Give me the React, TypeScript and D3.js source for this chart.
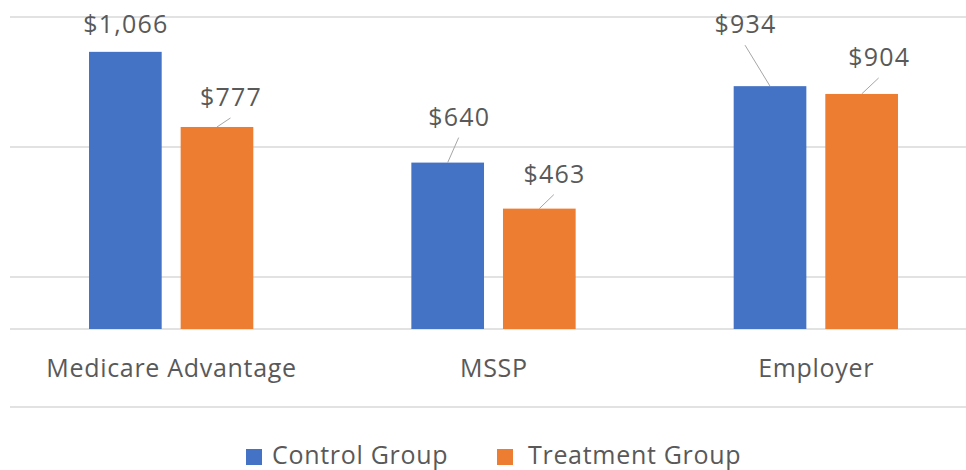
import React, { useEffect, useRef } from 'react';
import * as d3 from 'd3';

const categories = ["Medicare Advantage", "MSSP", "Employer"];
const seriesNames = ["Control Group", "Treatment Group"];
const controlValues = [1066, 640, 934];
const treatmentValues = [777, 463, 904];
const gridTicks = [-300, 200, 700, 1200];

// label placement relative to bar top (Excel-style dragged labels)
const controlLabelOffsets = [[0, -19], [11, -37], [-25, -53]];
const treatmentLabelOffsets = [[13.5, -21], [14.5, -26], [17, -28]];

const colors = ["#4472C4", "#ED7D31"];
const textColor = "#595959";
const font = "'Open Sans', 'Noto Sans', sans-serif";

function App() {
    const svgRef = useRef<SVGSVGElement>(null);

    useEffect(() => {
        if (!svgRef.current) return;
        const svg = d3.select(svgRef.current);
        svg.selectAll("*").remove();

        const width = 966;
        const height = 470;

        const y = d3.scaleLinear().domain([-300, 1200]).range([407, 17]);
        const x0 = d3.scaleBand<string>().domain(categories).range([10, 977]).padding(0);
        const groupWidth = 164.3;
        const x1 = d3.scaleBand<string>().domain(seriesNames).range([0, groupWidth]).paddingInner(0.207);

        // gridlines
        svg.append("g")
            .selectAll("line")
            .data([...gridTicks, 0])
            .join("line")
            .attr("x1", 10)
            .attr("x2", width)
            .attr("y1", d => y(d))
            .attr("y2", d => y(d))
            .attr("stroke", "#D9D9D9")
            .attr("stroke-width", 1.3);

        const series = [
            { name: seriesNames[0], values: controlValues, offsets: controlLabelOffsets, color: colors[0] },
            { name: seriesNames[1], values: treatmentValues, offsets: treatmentLabelOffsets, color: colors[1] },
        ];

        series.forEach(s => {
            const bars = categories.map((c, i) => {
                const bx = (x0(c) as number) + (x0.bandwidth() - groupWidth) / 2 + (x1(s.name) as number);
                return { c, v: s.values[i], x: bx, w: x1.bandwidth(), off: s.offsets[i] };
            });

            svg.append("g")
                .selectAll("rect")
                .data(bars)
                .join("rect")
                .attr("x", d => d.x)
                .attr("y", d => y(d.v))
                .attr("width", d => d.w)
                .attr("height", d => y(0) - y(d.v))
                .attr("fill", s.color);

            // leader lines
            svg.append("g")
                .selectAll("line")
                .data(bars.filter(d => d.off[0] !== 0))
                .join("line")
                .attr("x1", d => d.x + d.w / 2)
                .attr("y1", d => y(d.v))
                .attr("x2", d => d.x + d.w / 2 + d.off[0])
                .attr("y2", d => y(d.v) + d.off[1] + 12)
                .attr("stroke", "#A6A6A6")
                .attr("stroke-width", 1);

            svg.append("g")
                .selectAll("text")
                .data(bars)
                .join("text")
                .attr("x", d => d.x + d.w / 2 + d.off[0] + 0.6)
                .attr("y", d => y(d.v) + d.off[1])
                .attr("text-anchor", "middle")
                .style("font-family", font)
                .style("font-size", "25px")
                .style("letter-spacing", "1.2px")
                .style("fill", textColor)
                .text(d => d3.format("$,")(d.v));
        });

        // category labels
        svg.append("g")
            .selectAll("text")
            .data(categories)
            .join("text")
            .attr("x", d => (x0(d) as number) + x0.bandwidth() / 2 + 0.35)
            .attr("y", 377)
            .attr("text-anchor", "middle")
            .style("font-family", font)
            .style("font-size", "25px")
            .style("letter-spacing", "0.7px")
            .style("fill", textColor)
            .text(d => d);

        // legend
        const legendX = [246, 497];
        const legend = svg.append("g");
        seriesNames.forEach((n, i) => {
            legend.append("rect")
                .attr("x", legendX[i])
                .attr("y", 449)
                .attr("width", 16)
                .attr("height", 16)
                .attr("fill", colors[i]);
            legend.append("text")
                .attr("x", legendX[i] + 26 + (i === 1 ? 5 : 0))
                .attr("y", 464)
                .style("font-family", font)
                .style("font-size", "25px")
                .style("letter-spacing", "0.7px")
                .style("fill", textColor)
                .text(n);
        });

        svg.attr("width", width).attr("height", height);
    }, []);

    return (
        <svg ref={svgRef} width="966" height="470"
             style={{ position: "absolute", left: 0, top: 0, background: "#fff" }}></svg>
    );
}

export default App;
